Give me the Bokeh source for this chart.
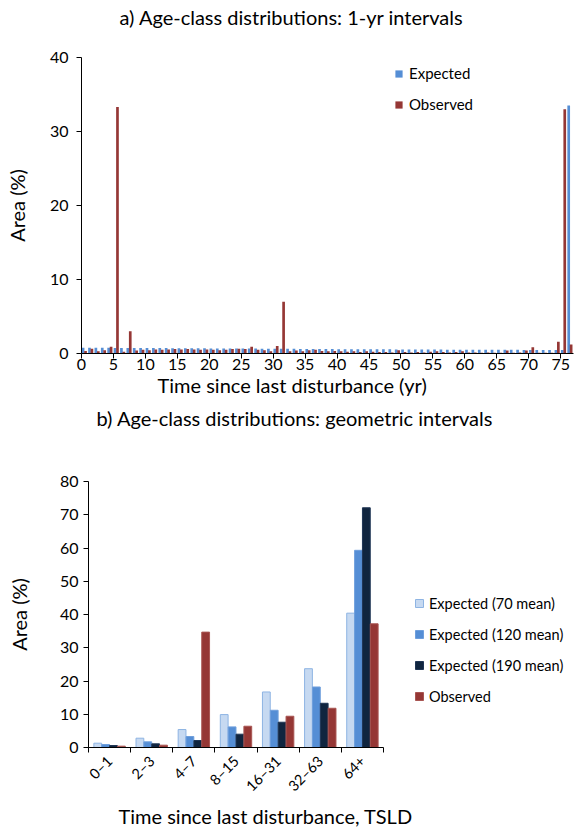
import math
from bokeh.plotting import figure
from bokeh.models import Range1d, FixedTicker, ColumnDataSource, LinearAxis, Title
from bokeh.transform import dodge
from bokeh.embed import file_html
from bokeh.resources import INLINE

# ---------------- data ----------------
years = list(range(77))
expected_1yr = [
    0.78, 0.78, 0.77, 0.77, 0.77, 0.76, 0.76, 0.76, 0.75, 0.75,
    0.74, 0.74, 0.73, 0.73, 0.72, 0.72, 0.71, 0.71, 0.70, 0.70,
    0.69, 0.69, 0.68, 0.68, 0.67, 0.67, 0.66, 0.66, 0.65, 0.65,
    0.64, 0.64, 0.63, 0.63, 0.62, 0.62, 0.61, 0.61, 0.60, 0.60,
    0.59, 0.59, 0.58, 0.58, 0.57, 0.57, 0.57, 0.56, 0.56, 0.55,
    0.55, 0.55, 0.54, 0.54, 0.53, 0.53, 0.53, 0.52, 0.52, 0.52,
    0.51, 0.51, 0.51, 0.50, 0.50, 0.50, 0.49, 0.49, 0.49, 0.48,
    0.48, 0.48, 0.47, 0.47, 0.47, 0.47, 33.5,
]
observed_1yr = [
    0.35, 0.65, 0.30, 0.45, 0.90, 33.3, 0.25, 3.0, 0.40, 0.50,
    0.45, 0.55, 0.50, 0.55, 0.60, 0.55, 0.60, 0.55, 0.50, 0.55,
    0.50, 0.45, 0.50, 0.60, 0.65, 0.60, 0.90, 0.50, 0.45, 0.30,
    1.00, 7.0, 0.30, 0.40, 0.30, 0.45, 0.50, 0.35, 0.30, 0.35,
    0.30, 0.25, 0.30, 0.20, 0.30, 0.25, 0.20, 0.20, 0.15, 0.45,
    0.20, 0.15, 0.20, 0.15, 0.25, 0.30, 0.20, 0.15, 0.20, 0.30,
    0.15, 0.15, 0.10, 0.15, 0.10, 0.10, 0.40, 0.10, 0.15, 0.40,
    0.85, 0.10, 0.10, 0.10, 1.60, 33.0, 1.20,
]
top_ticks = [0, 5, 10, 15, 20, 25, 30, 35, 40, 45, 50, 55, 60, 65, 70, 75]

classes = ["0\u20131", "2\u20133", "4\u20137", "8\u201315", "16\u201331", "32\u201363", "64+"]
exp70 = [1.3, 2.8, 5.4, 9.9, 16.7, 23.7, 40.4]
exp120 = [0.9, 1.7, 3.3, 6.2, 11.2, 18.2, 59.3]
exp190 = [0.6, 1.1, 2.1, 4.0, 7.6, 13.3, 72.1]
obs_geo = [0.4, 0.7, 34.7, 6.4, 9.4, 11.8, 37.2]

FONT = "Lato"
BLUE = "#558ED5"
RED = "#953735"
LIGHT = "#C6D9F1"
LIGHT_LINE = "#8EB4E3"
DARK = "#10253F"
TICK_FS = "16px"
AXT_FS = "20px"
TITLE_FS = "20px"


def style_axes(p):
    p.xgrid.visible = False
    p.ygrid.visible = False
    p.outline_line_color = None
    xa, ya = p.below[0], p.left[0]
    for ax in (xa, ya):
        ax.axis_line_color = "#000000"
        ax.major_tick_line_color = "#000000"
        ax.minor_tick_line_color = "#000000"
        ax.major_label_text_font = FONT
        ax.major_label_text_font_size = TICK_FS
        ax.major_label_text_color = "#000000"
        ax.axis_label_text_font = FONT
        ax.axis_label_text_font_size = AXT_FS
        ax.axis_label_text_font_style = "normal"
        ax.axis_label_text_color = "#000000"
        ax.major_tick_in = 0
        ax.major_tick_out = 5
        ax.minor_tick_in = 0
        ax.minor_tick_out = 0
    return xa, ya


def spacer(p, side, size):
    """An invisible axis that only reserves space in a side panel."""
    ax = LinearAxis(ticker=FixedTicker(ticks=[], minor_ticks=[]), axis_label=".")
    ax.axis_line_color = None
    ax.major_tick_line_color = None
    ax.minor_tick_line_color = None
    ax.major_tick_in = 0
    ax.major_tick_out = 0
    ax.minor_tick_in = 0
    ax.minor_tick_out = 0
    ax.major_label_standoff = 0
    ax.axis_label_text_font_size = "1px"
    ax.axis_label_text_color = None
    ax.axis_label_standoff = size
    p.add_layout(ax, side)


def add_text(p, side, text, fs, offset, valign):
    t = Title(text=text, align="left", offset=offset, standoff=0, vertical_align=valign,
              text_font=FONT, text_font_size=fs, text_font_style="normal", text_color="#000000")
    p.add_layout(t, side)


def style_legend(lg, loc, glyph, spacing, standoff, fs):
    lg.location = loc
    lg.padding = 0
    lg.margin = 0
    lg.border_line_color = None
    lg.background_fill_alpha = 0
    lg.glyph_width = glyph
    lg.glyph_height = glyph
    lg.label_height = 20
    lg.spacing = spacing
    lg.label_standoff = standoff
    lg.label_text_font = FONT
    lg.label_text_font_size = fs
    lg.label_text_color = "#000000"


# ---------------- top chart ----------------
src1 = ColumnDataSource(dict(year=years, expected=expected_1yr, observed=observed_1yr))

p1 = figure(width=574, height=403, x_range=Range1d(0, 77), y_range=Range1d(0, 40),
            output_backend="svg", toolbar_location=None,
            min_border_left=81, min_border_right=1, min_border_top=57, min_border_bottom=50)
p1.title = None

p1.vbar(x=dodge("year", 0.25), top="expected", width=0.42, bottom=0, source=src1,
        fill_color=BLUE, line_color=None, legend_label="Expected")
p1.vbar(x=dodge("year", 0.63), top="observed", width=0.42, bottom=0, source=src1,
        fill_color=RED, line_color=None, legend_label="Observed")

x1, y1 = style_axes(p1)
x1.ticker = FixedTicker(ticks=top_ticks)
y1.ticker = FixedTicker(ticks=[0, 10, 20, 30, 40])
y1.axis_label = "Area (%)"
x1.major_label_standoff = 0
y1.major_label_standoff = 8
y1.axis_label_standoff = 18
spacer(p1, "above", 25)
add_text(p1, "above", "a) Age-class distributions: 1-yr intervals", TITLE_FS, 38, "bottom")
add_text(p1, "below", "Time since last disturbance (yr)", AXT_FS, 76, "top")
style_legend(p1.legend[0], (313, 239), 9, 11, 6, "15px")

# ---------------- bottom chart ----------------
idx = list(range(len(classes)))
src2 = ColumnDataSource(dict(idx=idx, e70=exp70, e120=exp120, e190=exp190, obs=obs_geo))

# frame extends to the right so that the legend sits inside it; the x axis is bounded
p2 = figure(width=574, height=429, x_range=Range1d(-0.5, 10.985), y_range=Range1d(0, 80),
            output_backend="svg", toolbar_location=None,
            min_border_left=88, min_border_right=2, min_border_top=76, min_border_bottom=85)
p2.title = None

bw = 0.185
p2.vbar(x=dodge("idx", -0.28), top="e70", width=bw, source=src2,
        fill_color=LIGHT, line_color=LIGHT_LINE, line_width=1, legend_label="Expected (70 mean)")
p2.vbar(x=dodge("idx", -0.093), top="e120", width=bw, source=src2,
        fill_color=BLUE, line_color="#6F9FDC", line_width=1, legend_label="Expected (120 mean)")
p2.vbar(x=dodge("idx", 0.093), top="e190", width=bw, source=src2,
        fill_color=DARK, line_color="#1F3554", line_width=1, legend_label="Expected (190 mean)")
p2.vbar(x=dodge("idx", 0.28), top="obs", width=bw, source=src2,
        fill_color=RED, line_color="#A85552", line_width=1, legend_label="Observed")

x2, y2 = style_axes(p2)
y2.ticker = FixedTicker(ticks=[0, 10, 20, 30, 40, 50, 60, 70, 80])
x2.bounds = (-0.5, 6.5)
x2.ticker = FixedTicker(ticks=idx, minor_ticks=[i - 0.5 for i in range(len(classes) + 1)])
x2.major_label_overrides = {i: c for i, c in zip(idx, classes)}
x2.major_label_orientation = math.pi / 4
x2.major_label_text_font_size = "14.5px"
x2.major_tick_out = 0
x2.minor_tick_out = 5
x2.major_label_standoff = 6
y2.axis_label = "Area (%)"
y2.major_label_standoff = 5
y2.axis_label_standoff = 26
spacer(p2, "above", 48)
add_text(p2, "above", "b) Age-class distributions: geometric intervals", TITLE_FS, 8, "bottom")
add_text(p2, "below", "Time since last disturbance, TSLD", AXT_FS, 30, "top")
style_legend(p2.legend[0], (326, 41), 10, 11, 5, "14.5px")

open("out.html", "w").write(file_html([p1, p2], INLINE))
